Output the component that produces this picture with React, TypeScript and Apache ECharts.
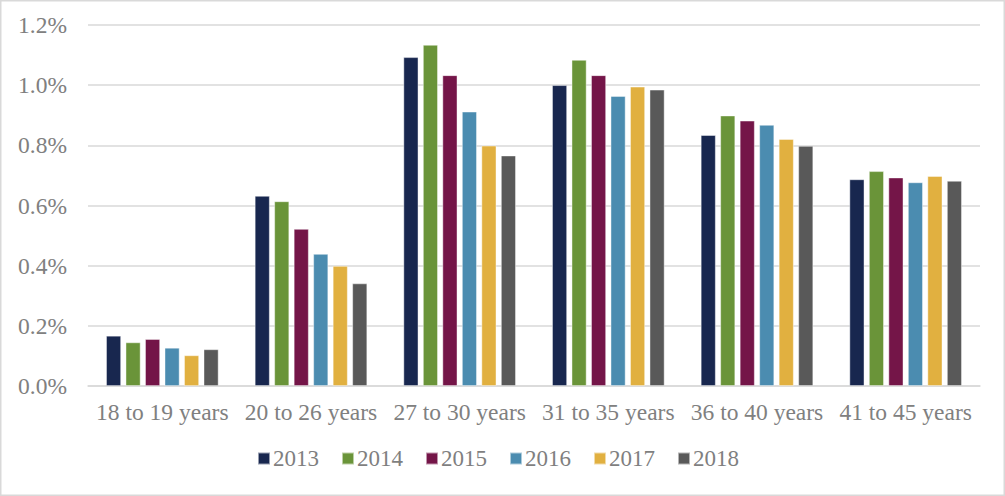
import React, { useEffect, useRef } from "react";
import * as echarts from "echarts";

const categories = [
  "18 to 19 years",
  "20 to 26 years",
  "27 to 30 years",
  "31 to 35 years",
  "36 to 40 years",
  "41 to 45 years",
];
const years = ["2013", "2014", "2015", "2016", "2017", "2018"];
const colors = ["#18274f", "#6a9439", "#741548", "#4b8cb0", "#e1b040", "#595959"];

const v2013 = [0.167, 0.632, 1.093, 1.0, 0.834, 0.687];
const v2014 = [0.145, 0.614, 1.134, 1.084, 0.899, 0.714];
const v2015 = [0.156, 0.522, 1.033, 1.033, 0.882, 0.693];
const v2016 = [0.127, 0.439, 0.912, 0.964, 0.868, 0.677];
const v2017 = [0.102, 0.399, 0.799, 0.995, 0.821, 0.698];
const v2018 = [0.122, 0.341, 0.766, 0.985, 0.798, 0.682];
const seriesValues = [v2013, v2014, v2015, v2016, v2017, v2018];

const yTicks = { min: 0, max: 1.2, interval: 0.2 };

export default function App() {
  const ref = useRef<HTMLDivElement>(null);
  useEffect(() => {
    if (!ref.current) return;
    const chart = echarts.init(ref.current, undefined, { renderer: "svg" });
    const font = "'Liberation Serif', 'Times New Roman', serif";
    chart.setOption({
      animation: false,
      backgroundColor: "#ffffff",
      textStyle: { fontFamily: font },
      graphic: [
        {
          type: "rect",
          shape: { x: 0.75, y: 0.75, width: 1003.5, height: 494.5 },
          style: { fill: "none", stroke: "#d9d9d9", lineWidth: 1.5 },
          silent: true,
        },
      ],
      grid: { left: 88, right: 25, top: 25, bottom: 110, containLabel: false },
      legend: {
        bottom: 21,
        left: 252,
        itemWidth: 12,
        itemHeight: 12,
        itemGap: 22,
        icon: "rect",
        data: years,
        textStyle: { fontFamily: font, fontSize: 23, color: "#7f7f7f", padding: [0, 0, 0, -2] },
      },
      xAxis: {
        type: "category",
        data: categories,
        axisLine: { lineStyle: { color: "#d9d9d9", width: 1.5 } },
        axisTick: { show: false },
        axisLabel: { interval: 0, fontFamily: font, fontSize: 23.5, color: "#808080", margin: 14 },
      },
      yAxis: {
        type: "value",
        min: yTicks.min,
        max: yTicks.max,
        interval: yTicks.interval,
        axisLine: { show: false },
        axisTick: { show: false },
        splitLine: { lineStyle: { color: "#d9d9d9", width: 1.5 } },
        axisLabel: {
          fontFamily: font,
          fontSize: 23.5,
          color: "#808080",
          margin: 21,
          formatter: (v: number) => v.toFixed(1) + "%",
        },
      },
      series: years.map((y, i) => ({
        name: y,
        type: "bar",
        data: seriesValues[i],
        barWidth: 15,
        barGap: "30%",
        itemStyle: {
          color: colors[i],
          borderColor: "rgba(255,255,255,0.55)",
          borderWidth: 0.8,
        },
      })),
    });
    return () => chart.dispose();
  }, []);
  return (
    <div
      ref={ref}
      style={{ position: "fixed", left: 0, top: 0, width: 1005, height: 496 }}
    />
  );
}
